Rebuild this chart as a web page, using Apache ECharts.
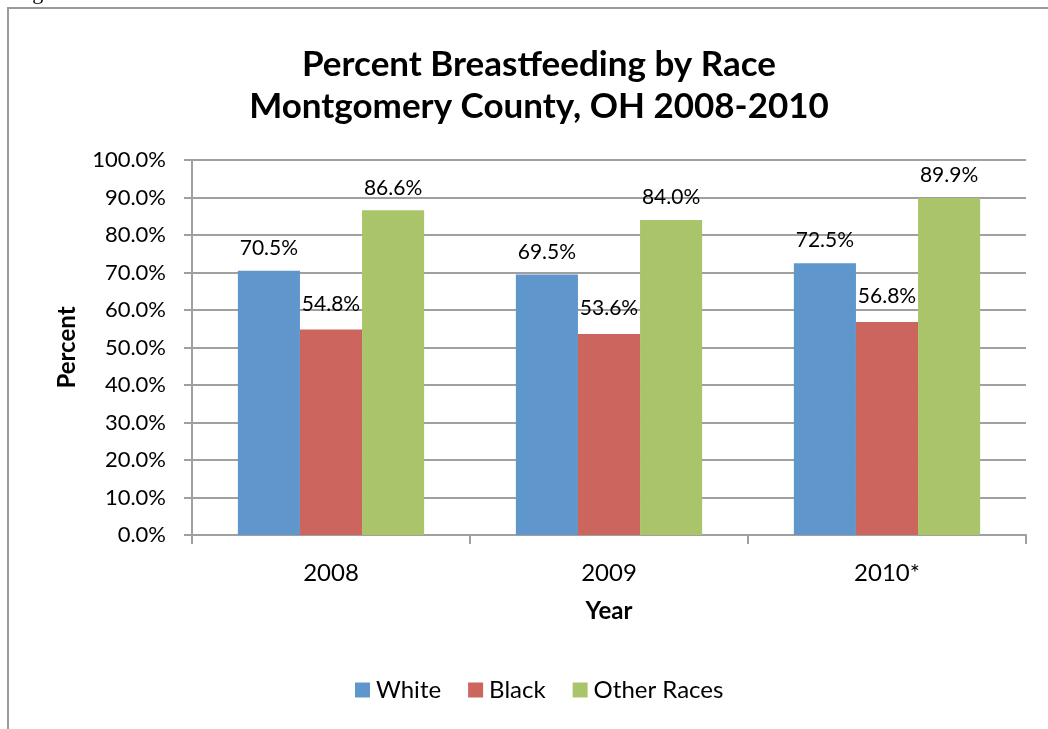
<!DOCTYPE html>
<html>
<head>
<meta charset="utf-8">
<script src="https://cdn.jsdelivr.net/npm/echarts@6/dist/echarts.min.js"></script>
<style>
html,body{margin:0;padding:0;background:#fff;}
#chart{width:1048px;height:729px;}
</style>
</head>
<body>
<div id="chart"></div>
<script>
var categories = ['2008', '2009', '2010*'];
var seriesNames = ['White', 'Black', 'Other Races'];
var whiteValues = [70.5, 69.5, 72.5];
var blackValues = [54.8, 53.6, 56.8];
var otherValues = [86.6, 84.0, 89.9];
var yTicks = [0, 10, 20, 30, 40, 50, 60, 70, 80, 90, 100];

var colors = ['#5F96CB', '#CD655F', '#AAC46A'];
var FONT = 'Lato';

var chart = echarts.init(document.getElementById('chart'));

function mkSeries(name, values, color, dist) {
  return {
    name: name,
    type: 'bar',
    data: values,
    barGap: '0%',
    barCategoryGap: '33%',
    itemStyle: { color: color },
    label: {
      show: true,
      position: 'top',
      distance: dist,
      color: '#000',
      fontFamily: FONT,
      fontSize: 21,
      formatter: function (p) { return p.value.toFixed(1) + '%'; }
    }
  };
}

chart.setOption({
  animation: false,
  backgroundColor: '#fff',
  title: {
    text: 'Percent Breastfeeding by Race\nMontgomery County, OH 2008-2010',
    left: 534,
    textAlign: 'center',
    top: 39,
    textStyle: {
      fontFamily: FONT,
      fontWeight: 'bold',
      fontSize: 35,
      lineHeight: 42,
      color: '#000'
    }
  },
  graphic: [
    {
      type: 'polyline',
      shape: { points: [[8, 740], [8, 8], [1060, 8]] },
      style: { stroke: '#9a9a9a', lineWidth: 2, fill: null },
      silent: true
    },
    {
      type: 'text',
      left: 14,
      top: -18,
      style: { text: 'Figure 3', font: '22px "Liberation Serif"', fill: '#000' },
      silent: true
    }
  ],
  legend: {
    data: seriesNames,
    bottom: 22,
    left: 350,
    itemWidth: 15,
    itemHeight: 15,
    itemGap: 27,
    icon: 'rect',
    textStyle: { fontFamily: FONT, fontSize: 24, color: '#000', padding: [0, 0, 0, 1] }
  },
  grid: { left: 192, right: 22, top: 160, bottom: 194 },
  xAxis: {
    type: 'category',
    data: categories,
    name: 'Year',
    nameLocation: 'middle',
    nameGap: 64,
    nameTextStyle: { fontFamily: FONT, fontWeight: 'bold', fontSize: 24, color: '#000' },
    axisLine: { lineStyle: { color: '#a0a0a0', width: 2 } },
    axisTick: { show: true, length: 9, lineStyle: { color: '#a0a0a0', width: 2 } },
    axisLabel: { fontFamily: FONT, fontSize: 24, color: '#000', margin: 26 }
  },
  yAxis: {
    type: 'value',
    min: yTicks[0],
    max: yTicks[yTicks.length - 1],
    interval: 10,
    name: 'Percent',
    nameLocation: 'middle',
    nameGap: 113,
    nameRotate: 90,
    nameTextStyle: { fontFamily: FONT, fontWeight: 'bold', fontSize: 24, color: '#000' },
    axisLine: { show: true, lineStyle: { color: '#a0a0a0', width: 2 } },
    axisTick: { show: true, length: 8, lineStyle: { color: '#a0a0a0', width: 2 } },
    splitLine: { lineStyle: { color: '#a0a0a0', width: 2 } },
    axisLabel: {
      fontFamily: FONT, fontSize: 22, color: '#000', margin: 26,
      formatter: function (v) { return v.toFixed(1) + '%'; }
    }
  },
  series: [
    mkSeries(seriesNames[0], whiteValues, colors[0], 12),
    mkSeries(seriesNames[1], blackValues, colors[1], 15),
    mkSeries(seriesNames[2], otherValues, colors[2], 12)
  ]
});
</script>
</body>
</html>
